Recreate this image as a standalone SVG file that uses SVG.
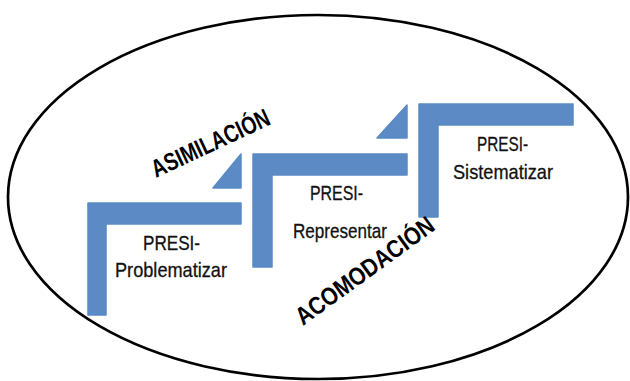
<svg xmlns="http://www.w3.org/2000/svg" width="630" height="381" viewBox="0 0 630 381">
  <style>
    .step { fill: #5B8AC5; stroke: #5B8AC5; stroke-width: 1.5; stroke-linejoin: round; }
    .lbl { font-family: "Liberation Sans", Arial, sans-serif; font-size: 21px; fill: #111; stroke: #111; stroke-width: 0.3; text-anchor: start; }
    .phase { font-family: "Liberation Sans", Arial, sans-serif; font-size: 25px; font-weight: bold; fill: #000; }
  </style>
  <rect width="630" height="381" fill="#fff"/>
  <g id="boundary">
    <ellipse cx="318" cy="197" rx="310" ry="182" fill="none" stroke="#000" stroke-width="2.7"/>
  </g>
  <g id="connectors">
    <polygon class="step" points="213,188 241,154 241,188"/>
    <polygon class="step" points="377,138 407,105 407,138"/>
  </g>
  <g id="node-problematizar">
    <polygon class="step" points="88,203 241,203 241,224 106,224 106,315 88,315"/>
    <text class="lbl" x="143" y="250" textLength="57" lengthAdjust="spacingAndGlyphs">PRESI-</text>
    <text class="lbl" x="115" y="277" textLength="112" lengthAdjust="spacingAndGlyphs">Problematizar</text>
  </g>
  <g id="node-representar">
    <polygon class="step" points="253,154 407,154 407,175 272,175 272,267 253,267"/>
    <text class="lbl" x="310" y="200" textLength="53" lengthAdjust="spacingAndGlyphs">PRESI-</text>
    <text class="lbl" x="293" y="238" textLength="94" lengthAdjust="spacingAndGlyphs">Representar</text>
  </g>
  <g id="node-sistematizar">
    <polygon class="step" points="419,104 573,104 573,125 438,125 438,217 419,217"/>
    <text class="lbl" x="477" y="151" textLength="51" lengthAdjust="spacingAndGlyphs">PRESI-</text>
    <text class="lbl" x="453" y="179" textLength="100" lengthAdjust="spacingAndGlyphs">Sistematizar</text>
  </g>
  <g id="label-asimilacion">
    <text class="phase" transform="translate(156,178) rotate(-25)" textLength="128" lengthAdjust="spacingAndGlyphs">ASIMILACIÓN</text>
  </g>
  <g id="label-acomodacion">
    <text class="phase" transform="translate(303,326) rotate(-36)" textLength="165" lengthAdjust="spacingAndGlyphs">ACOMODACIÓN</text>
  </g>
</svg>
